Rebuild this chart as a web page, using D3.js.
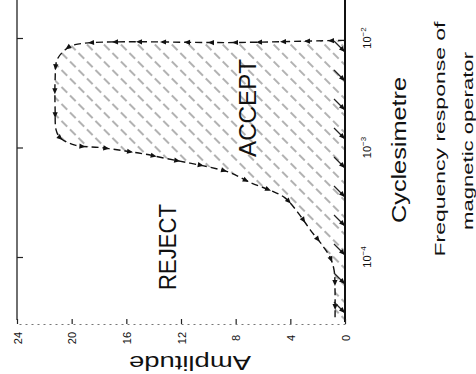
<!DOCTYPE html>
<html>
<head>
<meta charset="utf-8">
<script src="https://cdn.jsdelivr.net/npm/d3@7"></script>
<style>
  body { margin: 0; background: #fff; }
  text { font-family: "Liberation Sans", Arial, sans-serif; fill: #111; }
</style>
</head>
<body>
<div id="chart"></div>
<script>
// values (frequency in cycles/metre, amplitude)
const ampTicks = [0, 4, 8, 12, 16, 20, 24];
const freqTicks = [1e-4, 1e-3, 1e-2];
const freqTickLabels = ["10", "10", "10"];
const freqTickExps = ["\u22124", "\u22123", "\u22122"];

// pass band outline, low frequency to high
const passFreq = [2.6e-5, 5.0e-5, 7.6e-5, 1.0e-4, 1.29e-4, 1.78e-4, 2.4e-4, 3.47e-4, 4.07e-4, 4.8e-4,
                  5.9e-4, 6.6e-4, 7.2e-4, 7.9e-4, 8.7e-4, 9.3e-4, 1.0e-3, 1.05e-3, 1.23e-3, 1.45e-3,
                  2.2e-3, 4.2e-3, 6.3e-3, 7.8e-3, 8.7e-3, 9.1e-3, 9.5e-3, 9.5e-3];
const passAmp = [0.73, 0.73, 0.8, 1.1, 1.68, 2.56, 3.29, 4.39, 5.49, 6.95,
                 8.41, 9.88, 11.34, 13.02, 14.63, 16.09, 17.92, 19.75, 20.85, 21.14,
                 21.21, 21.21, 21.07, 20.48, 19.75, 7.68, 0.37, 0];

const width = 476, height = 374;

const svg = d3.select("#chart")
  .append("svg")
    .attr("width", width)
    .attr("height", height);

// chart is printed turned a quarter turn: amplitude runs right to left, frequency bottom to top
const amp = d3.scaleLinear().domain([0, 24]).range([345, 17]);
const freq = d3.scaleLog().domain([1e-4, 1e-2]).range([257, 38]);
const yBottom = 322;

// hatch pattern
const defs = svg.append("defs");
defs.append("pattern")
    .attr("id", "hatch")
    .attr("patternUnits", "userSpaceOnUse")
    .attr("width", 12)
    .attr("height", 12)
    .attr("patternTransform", "rotate(45)")
  .append("line")
    .attr("x1", 0).attr("y1", 6)
    .attr("x2", 12).attr("y2", 6)
    .attr("stroke", "#666")
    .attr("stroke-width", 1)
    .attr("stroke-dasharray", "5,4");

const pts = passFreq.map((f, i) => [f, passAmp[i]]);
const line = d3.line()
  .x(d => amp(d[1]))
  .y(d => freq(d[0]))
  .curve(d3.curveCatmullRom.alpha(0.5));

// filled region
svg.append("path")
    .attr("d", line(pts) + `L${amp(0)},${freq(passFreq[0])}Z`)
    .attr("fill", "url(#hatch)")
    .attr("stroke", "none");

// dashed boundary
const edge = svg.append("path")
    .attr("d", line(pts.slice().reverse()))
    .attr("fill", "none")
    .attr("stroke", "#111")
    .attr("stroke-width", 1.4)
    .attr("stroke-dasharray", "7,4");

// arrowheads along the boundary
const edgeNode = edge.node();
const len = edgeNode.getTotalLength();
for (let s = 14; s < len - 6; s += 24) {
  const p = edgeNode.getPointAtLength(s);
  const q = edgeNode.getPointAtLength(s + 1);
  const ang = Math.atan2(q.y - p.y, q.x - p.x) * 180 / Math.PI;
  svg.append("path")
      .attr("d", "M3,0L-3,-2.6L-3,2.6Z")
      .attr("transform", `translate(${p.x},${p.y}) rotate(${ang})`)
      .attr("fill", "#111");
}

// hatch ticks with arrows against the zero line
for (let y = 52; y < yBottom; y += 29) {
  svg.append("line")
      .attr("x1", amp(0) - 11).attr("y1", y - 11)
      .attr("x2", amp(0)).attr("y2", y)
      .attr("stroke", "#222")
      .attr("stroke-width", 1.2);
  svg.append("path")
      .attr("d", "M0,0L-6,-2.5L-6,2.5Z")
      .attr("transform", `translate(${amp(0)},${y}) rotate(45)`)
      .attr("fill", "#111");
}

// top border (amplitude 24) with decade ticks
svg.append("line")
    .attr("x1", amp(24)).attr("x2", amp(24))
    .attr("y1", 0).attr("y2", 320)
    .attr("stroke", "#222")
    .attr("stroke-width", 1.3);
svg.append("g")
    .attr("transform", `translate(${amp(24)},0)`)
    .call(d3.axisRight(freq).tickValues(freqTicks).tickSize(6).tickFormat(""))
    .call(g => g.select(".domain").remove())
    .call(g => g.selectAll("line").attr("stroke", "#222").attr("stroke-width", 1.2));

// zero line (frequency axis)
svg.append("line")
    .attr("x1", amp(0)).attr("x2", amp(0))
    .attr("y1", 0).attr("y2", yBottom)
    .attr("stroke", "#111")
    .attr("stroke-width", 2);

// frequency labels
const fl = svg.append("g");
freqTicks.forEach((v, i) => {
  const t = fl.append("text")
      .attr("transform", `translate(367,${freq(v)}) rotate(-90)`)
      .attr("text-anchor", "middle")
      .attr("dominant-baseline", "central")
      .attr("font-size", 11);
  t.append("tspan").text(freqTickLabels[i]);
  t.append("tspan").attr("font-size", 8).attr("dy", -4).text(freqTickExps[i]);
});

// amplitude axis
svg.append("g")
    .attr("transform", `translate(0,324)`)
    .call(d3.axisBottom(amp).tickValues(ampTicks).tickSizeInner(-5).tickSizeOuter(0))
    .call(g => g.select(".domain").attr("stroke", "#777").attr("stroke-dasharray", "2,4"))
    .call(g => g.selectAll(".tick line").attr("stroke", "#222").attr("stroke-width", 1.2))
    .call(g => g.selectAll(".tick text")
        .attr("y", 0).attr("dy", null)
        .attr("transform", "translate(0,14) rotate(-90)")
        .attr("text-anchor", "middle")
        .attr("dominant-baseline", "central")
        .attr("font-size", 11)
        .attr("font-family", "Liberation Sans, Arial, sans-serif")
        .attr("fill", "#222"));

// labels
function label(txt, x, y, rot, size, tl) {
  svg.append("text")
      .attr("transform", `translate(${x},${y}) rotate(${rot})`)
      .attr("text-anchor", "middle")
      .attr("dominant-baseline", "central")
      .attr("font-size", size)
      .attr("textLength", tl)
      .attr("lengthAdjust", "spacingAndGlyphs")
      .text(txt);
}
label("REJECT", 168, 247, -90, 23, 86);
label("ACCEPT", 248, 108, -90, 23, 98);
label("Cyclesimetre", 398, 150, -90, 21, 146);
label("Frequency response of", 439, 139, -90, 15, 235);
label("magnetic operator", 467, 141, -90, 15, 178);

// amplitude title, printed upside down
svg.append("text")
    .attr("transform", "translate(190,356) rotate(180)")
    .attr("text-anchor", "middle")
    .attr("font-size", 21)
    .attr("textLength", 122)
    .attr("lengthAdjust", "spacingAndGlyphs")
    .text("Amplitude");
</script>
</body>
</html>
